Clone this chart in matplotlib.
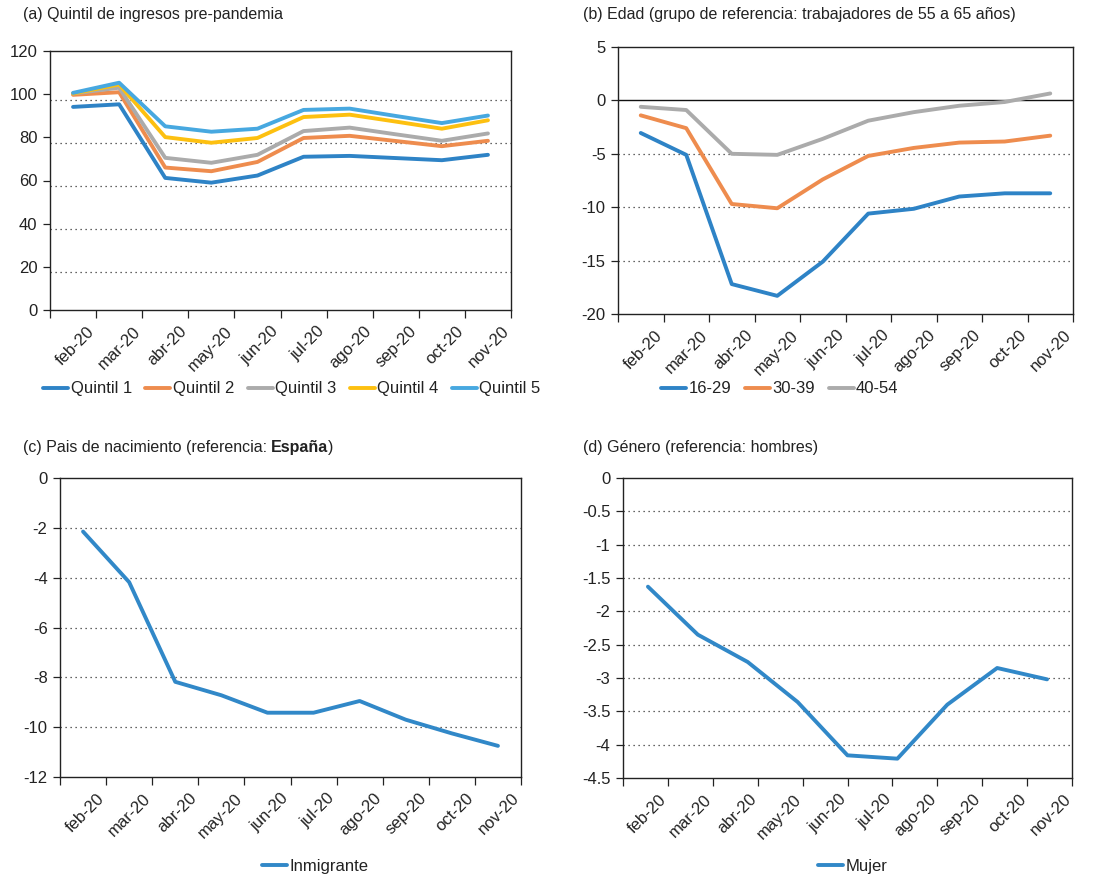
import numpy as np
import matplotlib
matplotlib.use("Agg")
import matplotlib.pyplot as plt
import matplotlib.transforms as mtrans

plt.rcParams["font.family"] = ["Liberation Sans", "DejaVu Sans"]
plt.rcParams["font.size"] = 12
plt.rcParams["text.color"] = "#222222"
plt.rcParams["xtick.color"] = "#222222"
plt.rcParams["ytick.color"] = "#222222"

# ── Data ─────────────────────────────────────────────────────────
months = ["feb-20", "mar-20", "abr-20", "may-20", "jun-20",
          "jul-20", "ago-20", "sep-20", "oct-20", "nov-20"]

quintil_names = ["Quintil 1", "Quintil 2", "Quintil 3", "Quintil 4", "Quintil 5"]
quintil_1 = [94.1, 95.3, 61.2, 59.0, 62.3, 71.0, 71.4, 70.4, 69.4, 71.9]
quintil_2 = [99.7, 100.9, 66.0, 64.3, 68.6, 79.7, 80.7, 78.3, 75.9, 78.4]
quintil_3 = [100.3, 103.0, 70.5, 68.2, 71.9, 82.9, 84.5, 81.4, 78.4, 81.8]
quintil_4 = [100.3, 104.5, 80.1, 77.5, 79.7, 89.4, 90.5, 87.3, 84.0, 87.9]
quintil_5 = [100.6, 105.3, 85.1, 82.6, 84.0, 92.7, 93.3, 89.9, 86.6, 90.1]

edad_names = ["16-29", "30-39", "40-54"]
edad_16_29 = [-3.05, -5.1, -17.2, -18.3, -15.1, -10.6, -10.15, -9.0, -8.7, -8.7]
edad_30_39 = [-1.4, -2.6, -9.7, -10.1, -7.4, -5.2, -4.45, -3.95, -3.85, -3.3]
edad_40_54 = [-0.6, -0.9, -5.0, -5.1, -3.6, -1.9, -1.1, -0.5, -0.15, 0.65]

inmigrante = [-2.15, -4.18, -8.18, -8.72, -9.42, -9.42, -8.95, -9.7, -10.25, -10.75]

# only 9 points in the original panel (d)
mujer = [-1.63, -2.35, -2.76, -3.36, -4.16, -4.21, -3.4, -2.85, -3.02]

Q_COLORS = ["#2E83C6", "#EE8C4E", "#ABABAB", "#FDC010", "#47A8E0"]
E_COLORS = ["#2E83C6", "#EE8C4E", "#ABABAB"]
BLUE = "#3188C8"
LW = 2.8

W, H = 1099, 876
fig = plt.figure(figsize=(W / 100, H / 100), dpi=100)


def px_axes(left, top, right, bottom):
    return fig.add_axes([left / W, 1 - bottom / H, (right - left) / W, (bottom - top) / H])


def style_axes(ax, yticks, grid_at, fmt="{:g}"):
    n = len(months)
    ax.set_xlim(-0.5, n - 0.5)
    ax.set_ylim(min(yticks), max(yticks))
    ax.set_yticks(yticks)
    ax.set_yticklabels([fmt.format(v) for v in yticks])
    ax.tick_params(axis="y", direction="out", length=5, width=0.9, pad=4, labelsize=12)
    # category labels centred, tick marks at category borders
    ax.set_xticks(np.arange(n))
    ax.set_xticklabels(months, rotation=45, ha="right", va="center",
                       rotation_mode="anchor", fontsize=12)
    ax.tick_params(axis="x", which="major", length=0, pad=0)
    ax.set_xticks(np.arange(n + 1) - 0.5, minor=True)
    ax.tick_params(axis="x", which="minor", direction="out", length=6, width=0.9)
    off = mtrans.ScaledTranslation(0.19, -0.19, fig.dpi_scale_trans)
    for lab in ax.get_xticklabels():
        lab.set_transform(lab.get_transform() + off)
    for y in grid_at:
        ax.axhline(y, color="#333333", linestyle=(0, (1, 3)), linewidth=0.9, zorder=1)
    for s in ax.spines.values():
        s.set_color("#222222")
        s.set_linewidth(1.0)


def title(x, y, txt):
    fig.text(x / W, 1 - y / H, txt, ha="left", va="center", fontsize=11.5)


LEG = dict(frameon=False, handlelength=1.5, handletextpad=0.15, fontsize=12)

# ── (a) Quintil ──────────────────────────────────────────────────
ax = px_axes(50, 51, 511, 310)
x = np.arange(len(months))
for name, vals, c in zip(quintil_names,
                         [quintil_1, quintil_2, quintil_3, quintil_4, quintil_5],
                         Q_COLORS):
    ax.plot(x, vals, color=c, linewidth=LW, label=name, zorder=3,
            solid_capstyle="round", solid_joinstyle="round")
yt = np.arange(0, 121, 20)
style_axes(ax, yt, [v - 2.5 for v in yt[1:-1]])
title(23, 15, "(a) Quintil de ingresos pre-pandemia")
fig.legend(*ax.get_legend_handles_labels(), loc="center",
           bbox_to_anchor=(292 / W, 1 - 389 / H), ncol=5, columnspacing=0.8, **LEG)

# ── (b) Edad ─────────────────────────────────────────────────────
ax = px_axes(618, 47, 1073, 314)
for name, vals, c in zip(edad_names, [edad_16_29, edad_30_39, edad_40_54], E_COLORS):
    ax.plot(x, vals, color=c, linewidth=LW, label=name, zorder=3,
            solid_capstyle="round", solid_joinstyle="round")
style_axes(ax, np.arange(-20, 6, 5), [-5, -10, -15])
ax.axhline(0, color="#111111", linewidth=1.0, zorder=2)
title(583, 15, "(b) Edad (grupo de referencia: trabajadores de 55 a 65 años)")
fig.legend(*ax.get_legend_handles_labels(), loc="center",
           bbox_to_anchor=(780 / W, 1 - 389 / H), ncol=3, columnspacing=0.8, **LEG)

# ── (c) Pais de nacimiento ───────────────────────────────────────
ax = px_axes(60, 478, 521, 777)
ax.plot(x, inmigrante, color=BLUE, linewidth=LW, label="Inmigrante", zorder=3,
        solid_capstyle="round", solid_joinstyle="round")
style_axes(ax, np.arange(-12, 1, 2), [-2, -4, -6, -8, -10])
t = fig.text(23 / W, 1 - 447 / H, "(c) Pais de nacimiento (referencia:",
             ha="left", va="center", fontsize=11.5)
t2 = fig.text(0, 0, "España", fontsize=11.5, fontweight="bold", ha="left", va="center")
fig.canvas.draw()
r = fig.canvas.get_renderer()
bb = t.get_window_extent(r)
t2.set_position(((bb.x1 + 4) / W, 1 - 447 / H))
bb2 = t2.get_window_extent(r)
fig.text(bb2.x1 / W, 1 - 447 / H, ")", ha="left", va="center", fontsize=11.5)
fig.legend(*ax.get_legend_handles_labels(), loc="center",
           bbox_to_anchor=(315 / W, 1 - 866 / H), **LEG)

# ── (d) Género ───────────────────────────────────────────────────
ax = px_axes(623, 478, 1072, 778)
style_axes(ax, np.arange(-4.5, 0.01, 0.5), np.arange(-4.0, -0.4, 0.5))
ax2 = ax.twiny()
ax2.plot(np.arange(len(mujer)), mujer, color=BLUE, linewidth=LW, label="Mujer",
         zorder=3, solid_capstyle="round", solid_joinstyle="round")
ax2.set_xlim(-0.5, len(mujer) - 0.5)
ax2.set_xticks([])
for s in ax2.spines.values():
    s.set_visible(False)
title(583, 447, "(d) Género (referencia: hombres)")
fig.legend(*ax2.get_legend_handles_labels(), loc="center",
           bbox_to_anchor=(853 / W, 1 - 866 / H), **LEG)

fig.savefig("out.png", dpi=100)
